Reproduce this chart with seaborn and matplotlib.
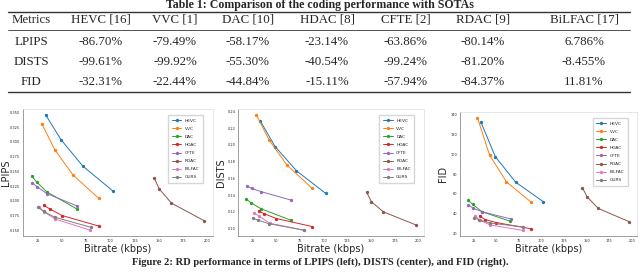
import matplotlib
matplotlib.use('Agg')
import matplotlib.pyplot as plt
from matplotlib.lines import Line2D
import pandas as pd
import seaborn as sb

# table values
table_cols = ['Metrics', 'HEVC [16]', 'VVC [1]', 'DAC [10]', 'HDAC [8]', 'CFTE [2]', 'RDAC [9]', 'BiLFAC [17]']
row_lpips = ['LPIPS', '-86.70%', '-79.49%', '-58.17%', '-23.14%', '-63.86%', '-80.14%', '6.786%']
row_dists = ['DISTS', '-99.61%', '-99.92%', '-55.30%', '-40.54%', '-99.24%', '-81.20%', '-8.455%']
row_fid = ['FID', '-32.31%', '-22.44%', '-44.84%', '-15.11%', '-57.94%', '-84.37%', '11.81%']

# rd curves, 4 rate points per method
methods = ['HEVC', 'VVC', 'DAC', 'HDAC', 'CFTE', 'RDAC', 'BiLFAC', 'OURS']
bitrate = {
    'HEVC': [33.0, 48.8, 71.4, 102.2],
    'VVC': [29.0, 42.4, 61.2, 88.0],
    'DAC': [18.6, 23.8, 34.3, 65.4],
    'HDAC': [31.5, 37.5, 50.0, 88.0],
    'CFTE': [19.0, 24.0, 34.4, 65.8],
    'RDAC': [145.3, 150.5, 163.0, 197.0],
    'BiLFAC': [26.2, 31.5, 43.0, 79.0],
    'OURS': [25.0, 31.0, 42.6, 79.8],
}
lpips = {
    'HEVC': [0.346, 0.304, 0.259, 0.217],
    'VVC': [0.331, 0.287, 0.244, 0.204],
    'DAC': [0.242, 0.232, 0.215, 0.186],
    'HDAC': [0.192, 0.186, 0.175, 0.157],
    'CFTE': [0.231, 0.224, 0.212, 0.191],
    'RDAC': [0.238, 0.220, 0.196, 0.166],
    'BiLFAC': [0.190, 0.181, 0.169, 0.150],
    'OURS': [0.189, 0.182, 0.172, 0.155],
}
dists = {
    'HEVC': [0.229, 0.198, 0.169, 0.142],
    'VVC': [0.236, 0.206, 0.176, 0.148],
    'DAC': [0.135, 0.1305, 0.1235, 0.110],
    'HDAC': [0.1206, 0.1177, 0.112, 0.1024],
    'CFTE': [0.151, 0.148, 0.144, 0.134],
    'RDAC': [0.1437, 0.132, 0.120, 0.1045],
    'BiLFAC': [0.119, 0.115, 0.1065, 0.098],
    'OURS': [0.1127, 0.110, 0.1057, 0.098],
}
fid = {
    'HEVC': [132.5, 97.8, 71.9, 52.1],
    'VVC': [137.3, 99.5, 72.2, 52.1],
    'DAC': [53.5, 49.4, 41.9, 32.3],
    'HDAC': [37.8, 34.0, 31.0, 24.8],
    'CFTE': [49.0, 45.6, 41.9, 34.7],
    'RDAC': [66.4, 57.2, 45.3, 32.0],
    'BiLFAC': [38.1, 33.5, 28.6, 23.1],
    'OURS': [36.1, 33.7, 30.6, 26.5],
}


def to_long(metric):
    rows = []
    for m in methods:
        for b, v in zip(bitrate[m], metric[m]):
            rows.append({'method': m, 'bitrate': b, 'value': v})
    return pd.DataFrame(rows)


sb.set_style('white')
plt.rcParams['font.family'] = ['DejaVu Sans']

fig = plt.figure(figsize=(6.4, 2.73), dpi=100)
serif = 'Liberation Serif'

# table caption and body
fig.text(0.5, 1 - 5 / 273, 'Table 1: Comparison of the coding performance with SOTAs',
         ha='center', va='center', family=serif, weight='bold', fontsize=8.6)
col_x = [31, 101, 175, 248, 327, 406, 483, 584]
row_y = [20, 42, 62, 82]
for r, row in enumerate([table_cols, row_lpips, row_dists, row_fid]):
    for c, txt in enumerate(row):
        fig.text(col_x[c] / 640, 1 - row_y[r] / 273, txt, ha='center', va='center',
                 family=serif, fontsize=9.3)
for y, lw in [(11.5, 1.0), (30, 0.6), (92, 1.0)]:
    fig.add_artist(Line2D([8 / 640, 630 / 640], [1 - y / 273, 1 - y / 273],
                          color='#333333', lw=lw, transform=fig.transFigure))

# three rd panels
panels = [
    (lpips, 'LPIPS', [23, 109, 213, 236], -0.062),
    (dists, 'DISTS', [238, 109, 424, 236], -0.062),
    (fid, 'FID', [460, 112, 637, 236], -0.068),
]
for metric, name, (x0, y0, x1, y1), lab_x in panels:
    ax = fig.add_axes([x0 / 640, 1 - y1 / 273, (x1 - x0) / 640, (y1 - y0) / 273])
    df = to_long(metric)
    sb.lineplot(data=df, x='bitrate', y='value', hue='method', hue_order=methods,
                marker='o', markersize=2.4, markeredgewidth=0, linewidth=0.7,
                sort=False, estimator=None, ax=ax)
    ax.set_xticks([25, 50, 75, 100, 125, 150, 175, 200])
    ax.tick_params(labelsize=2.5, length=1, width=0.4, pad=1)
    ax.set_xlabel('Bitrate (kbps)', fontsize=7, labelpad=1)
    ax.set_ylabel(name, fontsize=7)
    ax.yaxis.set_label_coords(lab_x, 0.5)
    for s in ax.spines.values():
        s.set_linewidth(0.5)
        s.set_color('#dddddd')
    ax.spines['left'].set_color('#777777')
    ax.spines['bottom'].set_color('#777777')
    ax.legend(loc='upper right', fontsize=3.2, handlelength=2.2, labelspacing=0.9,
              borderpad=0.8, frameon=True, fancybox=False, edgecolor='#cccccc',
              bbox_to_anchor=(0.96, 0.97))

# figure caption
fig.text(0.5, 11 / 273, 'Figure 2: RD performance in terms of LPIPS (left), DISTS (center), and FID (right).',
         ha='center', va='center', family=serif, weight='bold', fontsize=7.6)

fig.savefig('out.png', dpi=100)
